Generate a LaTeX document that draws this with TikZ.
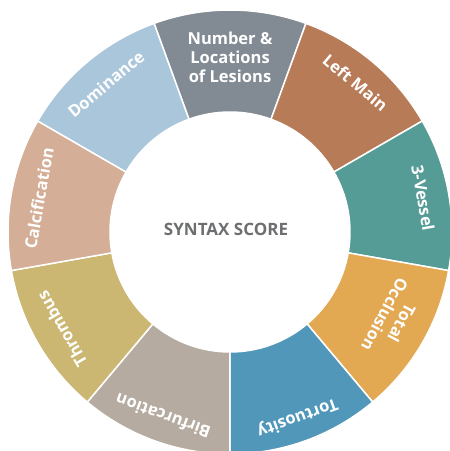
\documentclass[tikz,border=0pt]{standalone}
\usepackage{fontspec}
\setmainfont{Open Sans}
\usepackage{xcolor}
\definecolor{numbergray}{RGB}{130,138,147}
\definecolor{leftmainbrown}{RGB}{184,123,88}
\definecolor{vesselteal}{RGB}{85,155,150}
\definecolor{occlusionorange}{RGB}{226,168,82}
\definecolor{tortuosityblue}{RGB}{80,151,186}
\definecolor{bifurcationtaupe}{RGB}{181,171,160}
\definecolor{thrombusochre}{RGB}{203,182,114}
\definecolor{calcificationpink}{RGB}{212,174,150}
\definecolor{dominanceblue}{RGB}{170,198,218}
\definecolor{scoregray}{RGB}{109,110,112}
\tikzset{segment/.style={draw=white, line width=1.5pt},
segmentlabel/.style={text=white, font=\bfseries\fontsize{16.5}{19}\selectfont, align=center, inner sep=0pt},
scorelabel/.style={text=scoregray, font=\bfseries\fontsize{17}{19}\selectfont, inner sep=0pt}}

\begin{document}
\begin{tikzpicture}[x=1pt, y=1pt]
                \useasboundingbox (-230pt, -219pt) rectangle (220pt, 232pt);
                \clip (-230pt, -219pt) rectangle (220pt, 232pt);

                % Ring segments
                \foreach \a/\c in {90/numbergray, 50/leftmainbrown, 10/vesselteal, -30/occlusionorange, -70/tortuosityblue, -110/bifurcationtaupe, -150/thrombusochre, 170/calcificationpink, 130/dominanceblue} {
\filldraw[segment, fill=\c] (\a-20:120pt) -- (\a-20:222pt) arc[start angle=\a-20, end angle=\a+20, radius=222pt] -- (\a+20:120pt) arc[start angle=\a+20, end angle=\a-20, radius=120pt] -- cycle;
}

                % Segment labels
                \foreach \a/\r/\txt/\nm in {90/175/{Number \&\\Locations\\of Lesions}/number, 50/195/{Left Main}/leftmain, 10/196/{3-Vessel}/vessel, -28/185/{Total\\Occlusion}/occlusion, -70/197/{Tortuosity}/tortuosity, -110/196/{Birfurcation}/bifurcation, -150/194/{Thrombus}/thrombus, 170/194/{Calcification}/calcification, 130/193/{Dominance}/dominance} {
\node[segmentlabel, rotate=\a-90] (\nm) at (\a:\r pt) {\txt};
}

                % Centre
                \node[scorelabel] (score) at (-4pt, 3pt) {SYNTAX SCORE};
            \end{tikzpicture}
\end{document}
